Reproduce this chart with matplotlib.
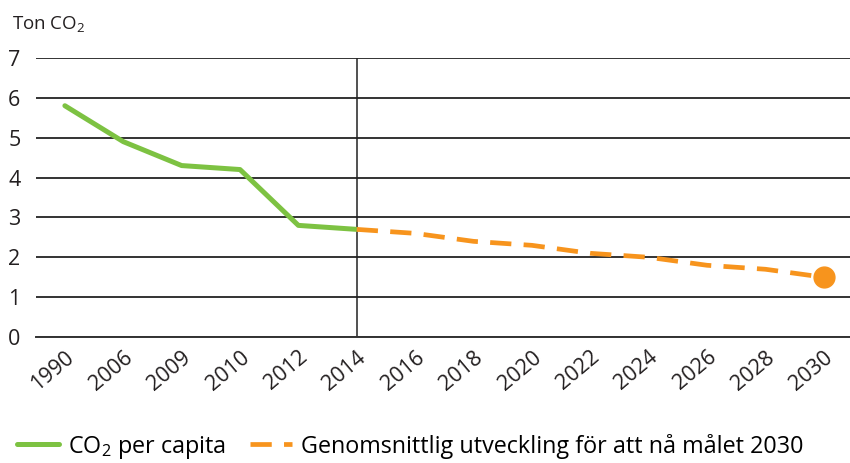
import matplotlib.pyplot as plt

plt.rcParams['font.family'] = ['Open Sans', 'DejaVu Sans']

years = ['1990', '2006', '2009', '2010', '2012', '2014', '2016', '2018',
         '2020', '2022', '2024', '2026', '2028', '2030']
actual = [5.8, 4.9, 4.3, 4.2, 2.8, 2.7]
target = [2.7, 2.6, 2.4, 2.3, 2.1, 2.0, 1.8, 1.7, 1.5]

green = '#7dc242'
orange = '#f7941d'

fig = plt.figure(figsize=(8.5, 4.63), dpi=100)
ax = fig.add_axes([0.042, 0.272, 0.958, 0.603])

x_actual = list(range(len(actual)))
x_target = list(range(len(actual) - 1, len(years)))

ax.plot(x_actual, actual, color=green, lw=3.6, solid_capstyle='round', zorder=3,
        label='CO$_\\mathregular{2}$ per capita')
ax.plot(x_target, target, color=orange, lw=3.4, linestyle=(0, (4.5, 2.6)), zorder=3,
        label='Genomsnittlig utveckling för att nå målet 2030')
ax.plot(x_target[-1], target[-1], 'o', color=orange, ms=15, zorder=4)

ax.axvline(len(actual) - 1, color='#222222', lw=1.1, zorder=2)

ax.set_ylim(0, 7)
ax.set_xlim(-0.5, len(years) - 1 + 0.45)
ax.set_yticks(range(8))
ax.set_xticks(range(len(years)))
ax.set_xticklabels(years, rotation=40, ha='right', rotation_mode='anchor')
ax.grid(axis='y', color='#333333', lw=1.4)
ax.set_axisbelow(True)
for s in ['top', 'right', 'left']:
    ax.spines[s].set_visible(False)
ax.spines['bottom'].set_color('#333333')
ax.spines['bottom'].set_linewidth(1.4)
ax.tick_params(axis='both', length=0, labelsize=15.5, colors='#231f20')
ax.tick_params(axis='y', pad=11)
ax.tick_params(axis='x', pad=7)

fig.text(0.014, 0.935, 'Ton CO$_\\mathregular{2}$', fontsize=13.5, color='#231f20')

fig.legend(loc='lower left', bbox_to_anchor=(-0.005, -0.04), ncol=2, frameon=False,
           fontsize=16.8, handlelength=1.8, columnspacing=1.0, handletextpad=0.4)

fig.savefig('out.png', dpi=100)
